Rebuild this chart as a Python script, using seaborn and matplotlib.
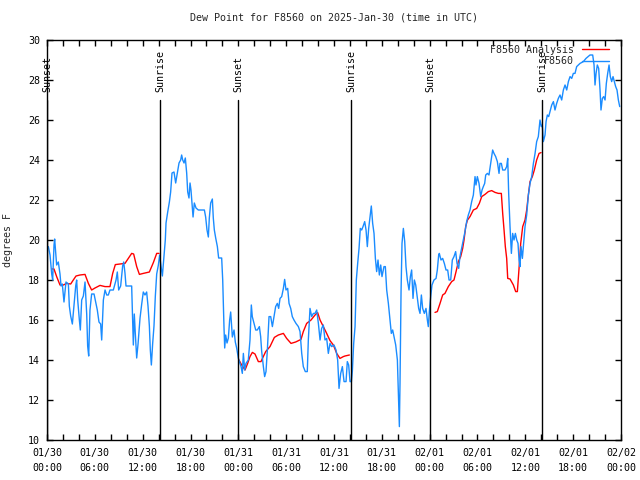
import numpy as np
import pandas as pd
import matplotlib
matplotlib.use("Agg")
import matplotlib.pyplot as plt
from matplotlib.lines import Line2D
from matplotlib.ticker import MultipleLocator
import seaborn as sns

# ---------------- data (hours since 2025-01-30 00:00 UTC) ----------------
obs_t_a = [0.17, 0.38, 0.59, 0.71, 0.88, 0.96, 1.13, 1.21, 1.42, 1.63,
           1.76, 1.92, 2.13, 2.38, 2.68, 2.80, 2.97, 3.18, 3.39, 3.60,
           3.72, 3.85, 4.06, 4.18, 4.35, 4.56, 4.77, 4.98, 5.10, 5.23,
           5.39, 5.60, 5.90, 6.10, 6.31, 6.52, 6.73, 6.86, 7.07, 7.28,
           7.49, 7.69, 7.90, 8.32, 8.66, 8.82, 8.99, 9.24, 9.49, 9.62,
           9.78, 9.91, 10.20, 10.62, 10.83, 10.95, 11.08, 11.25, 11.42, 11.67,
           11.88, 12.08, 12.29, 12.50, 12.67, 12.84, 12.96, 13.09, 13.25, 13.42,
           13.59, 13.76, 13.97, 14.13, 14.30, 14.47, 14.68, 14.84, 14.93, 15.14,
           15.35, 15.51, 15.68, 15.93, 16.14, 16.35, 16.56, 16.77, 16.89, 17.02,
           17.19, 17.35, 17.52, 17.65, 17.81, 17.94, 18.06, 18.19, 18.32, 18.48,
           18.69, 18.98, 19.40, 19.74, 19.90, 20.07, 20.24, 20.36, 20.53, 20.74,
           20.86, 20.99, 21.16, 21.37, 21.53, 21.91, 22.04, 22.20, 22.29, 22.41,
           22.58, 22.75, 22.91, 23.04, 23.25, 23.46, 23.62, 23.79, 24.00]
obs_v_a = [19.67, 19.25, 18.3, 18.0, 19.75, 20.05, 19.2, 18.75, 18.9, 18.3,
           17.7, 17.8, 16.9, 17.9, 17.8, 16.7, 16.2, 15.8, 16.75, 17.7,
           18.0, 17.0, 16.0, 15.5, 17.0, 17.2, 17.9, 16.3, 14.7, 14.2,
           16.5, 17.3, 17.3, 16.9, 16.5, 15.9, 15.8, 15.0, 17.0, 17.5,
           17.25, 17.25, 17.5, 17.5, 18.0, 18.4, 17.5, 17.7, 18.7, 18.9,
           18.35, 17.7, 17.7, 17.7, 14.75, 16.3, 15.3, 14.1, 14.8, 16.1,
           16.8, 17.4, 17.25, 17.4, 16.7, 15.7, 14.5, 13.75, 14.8, 15.7,
           17.2, 18.3, 18.75, 19.25, 18.7, 18.2, 19.25, 20.0, 20.85, 21.4,
           21.9, 22.4, 23.35, 23.4, 22.85, 23.35, 23.85, 24.0, 24.25, 24.0,
           23.85, 24.1, 23.35, 22.4, 22.1, 22.85, 22.5, 21.85, 21.15, 21.85,
           21.6, 21.5, 21.5, 21.5, 21.15, 20.5, 20.15, 21.1, 21.85, 22.05,
           21.1, 20.5, 20.1, 19.67, 19.1, 19.1, 18.0, 15.65, 14.6, 15.25,
           14.85, 15.1, 16.0, 16.4, 15.15, 15.5, 14.9, 14.6, 14.1]

obs_t_b = [24.13, 24.34, 24.50, 24.63, 24.80, 24.96, 25.25, 25.46, 25.63, 25.75,
           25.97, 26.18, 26.38, 26.64, 26.80, 26.93, 27.14, 27.30, 27.47, 27.64,
           27.85, 28.06, 28.27, 28.48, 28.68, 28.89, 29.06, 29.23, 29.44, 29.65,
           29.81, 29.98, 30.19, 30.36, 30.57, 30.77, 30.98, 31.23, 31.53, 31.74,
           31.95, 32.15, 32.40, 32.65, 32.78, 32.99, 33.20, 33.41, 33.62, 33.83,
           34.04, 34.25, 34.45, 34.66, 34.87, 35.08, 35.29, 35.50, 35.71, 36.00,
           36.25, 36.46, 36.63, 36.84, 37.05, 37.26, 37.51, 37.67, 37.84, 38.01,
           38.18, 38.30, 38.47, 38.64, 38.80, 38.97, 39.14, 39.30, 39.47, 39.64,
           39.85, 40.02, 40.18, 40.35, 40.52, 40.68, 40.85, 41.02, 41.19, 41.35,
           41.52, 41.69, 41.86, 42.02, 42.27, 42.44, 42.61, 42.82, 43.03, 43.19,
           43.36, 43.53, 43.74, 43.95, 44.11, 44.20, 44.28, 44.41, 44.53, 44.70,
           44.87, 45.03, 45.20, 45.41, 45.58, 45.74, 45.91, 46.08, 46.25, 46.46,
           46.62, 46.79, 46.96, 47.12, 47.33, 47.54, 47.71, 47.83, 47.96, 48.13,
           48.29, 48.54, 48.80, 48.96, 49.13]
obs_v_b = [13.92, 13.67, 13.33, 14.33, 13.5, 13.83, 14.0, 14.99, 16.75, 16.17,
           15.83, 15.5, 15.5, 15.67, 15.17, 14.42, 13.67, 13.17, 13.42, 14.5,
           16.17, 16.17, 15.67, 16.17, 16.67, 16.83, 16.58, 17.08, 17.17, 17.58,
           18.03, 17.5, 17.58, 16.83, 16.58, 16.17, 16.0, 15.83, 15.67, 15.42,
           14.33, 13.67, 13.42, 13.42, 15.0, 16.58, 16.17, 16.33, 16.33, 16.5,
           15.83, 15.0, 15.58, 15.75, 15.0, 15.08, 14.33, 14.83, 14.67, 14.75,
           14.5, 14.0, 12.58, 13.33, 13.67, 12.92, 12.92, 13.92, 13.75, 12.92,
           12.92, 13.42, 14.83, 15.67, 18.0, 18.83, 19.58, 20.58, 20.5, 20.67,
           20.92, 20.5, 19.67, 20.58, 21.17, 21.7, 20.83, 20.33, 19.08, 18.42,
           19.0, 18.25, 18.75, 18.17, 18.67, 18.67, 17.5, 16.83, 16.0, 15.33,
           15.5, 15.17, 14.75, 14.0, 11.83, 10.67, 12.83, 17.42, 19.83, 20.58,
           19.92, 18.67, 18.0, 17.5, 18.17, 18.5, 17.08, 18.0, 17.75, 17.08,
           16.58, 16.33, 17.25, 16.58, 16.33, 16.58, 16.0, 15.67, 16.42, 17.17,
           17.75, 18.0, 18.08, 18.5, 19.25]

obs_t_c = [49.21, 49.42, 49.63, 49.84, 50.05, 50.26, 50.43, 50.64, 50.84, 51.05,
           51.26, 51.43, 51.64, 51.80, 52.01, 52.22, 52.43, 52.64, 52.85, 53.06,
           53.27, 53.48, 53.69, 53.81, 53.98, 54.19, 54.40, 54.57, 54.73, 54.90,
           55.03, 55.24, 55.44, 55.65, 55.90, 56.07, 56.28, 56.49, 56.70, 56.82,
           56.99, 57.16, 57.45, 57.66, 57.79, 57.91, 58.08, 58.25, 58.41, 58.58,
           58.75, 58.92, 59.08, 59.21, 59.33, 59.46, 59.63, 59.75, 59.96, 60.17,
           60.38, 60.59, 60.80, 61.01, 61.22, 61.42, 61.63, 61.84, 62.01, 62.13,
           62.26, 62.47, 62.60, 62.76, 62.93, 63.10, 63.31, 63.52, 63.72, 63.93,
           64.14, 64.35, 64.56, 64.77, 64.98, 65.19, 65.40, 65.61, 65.82, 66.02,
           66.23, 66.44, 66.65, 66.86, 67.28, 67.61, 68.11, 68.45, 68.62, 68.74,
           68.87, 69.03, 69.20, 69.37, 69.49, 69.66, 69.83, 70.00, 70.16, 70.33,
           70.50, 70.66, 70.83, 71.00, 71.17, 71.33, 71.50, 71.67, 71.84]
obs_v_c = [19.33, 19.0, 19.08, 18.83, 18.5, 18.5, 18.0, 18.0, 19.0, 19.17,
           19.42, 18.83, 18.58, 19.17, 19.58, 20.0, 20.42, 20.92, 21.25, 21.5,
           21.92, 22.25, 23.17, 22.75, 23.17, 22.83, 22.17, 22.5, 22.67, 22.83,
           23.25, 23.33, 23.25, 23.83, 24.5, 24.33, 24.17, 23.92, 23.33, 23.83,
           23.83, 23.5, 23.5, 23.67, 24.08, 22.33, 20.67, 19.33, 20.33, 20.0,
           20.33, 20.0, 19.83, 19.0, 18.67, 19.67, 19.08, 19.67, 20.67, 21.25,
           22.25, 22.83, 23.17, 23.83, 24.33, 24.92, 25.17, 26.0, 25.67, 25.75,
           24.92, 25.25, 25.92, 26.25, 26.17, 26.42, 26.75, 26.92, 26.5, 26.83,
           27.08, 27.25, 27.0, 27.5, 27.75, 27.5, 27.92, 28.17, 28.08, 28.33,
           28.33, 28.67, 28.75, 28.83, 28.92, 29.08, 29.25, 29.25, 28.75, 27.75,
           28.33, 28.75, 28.58, 27.5, 26.5, 27.08, 27.17, 27.0, 27.83, 28.33,
           28.75, 28.17, 27.92, 28.17, 27.92, 27.67, 27.5, 27.0, 26.67]

ana_t_1 = [0.59, 0.88, 1.21, 1.63, 2.05, 2.47, 2.97, 3.30, 3.64, 4.14,
           4.77, 5.19, 5.60, 6.02, 6.65, 7.28, 7.90, 8.24, 8.57, 9.16,
           9.78, 10.20, 10.62, 10.87, 11.25, 11.59, 12.08, 12.84, 13.34, 13.76,
           14.05]
ana_v_1 = [18.55, 18.55, 18.17, 17.75, 17.75, 17.83, 17.8, 18.0, 18.2, 18.25,
           18.28, 17.83, 17.5, 17.6, 17.73, 17.67, 17.67, 18.33, 18.77, 18.8,
           18.83, 19.08, 19.33, 19.3, 18.67, 18.28, 18.33, 18.4, 18.87, 19.33,
           19.33]

ana_t_2 = [24.08, 24.42, 24.84, 25.17, 25.46, 25.76, 26.09, 26.51, 26.84, 27.05,
           27.43, 27.97, 28.52, 29.02, 29.65, 30.06, 30.61, 31.19, 31.86, 32.15,
           32.57, 33.12, 33.62, 33.95, 34.25, 34.66, 35.08, 35.50, 35.92, 36.34,
           36.75, 37.17, 37.38, 37.93]
ana_v_2 = [14.0, 13.75, 13.5, 13.83, 14.17, 14.38, 14.3, 13.92, 13.92, 14.1,
           14.42, 14.67, 15.13, 15.25, 15.33, 15.08, 14.83, 14.9, 15.03, 15.42,
           15.83, 16.0, 16.25, 16.37, 16.0, 15.67, 15.33, 14.97, 14.75, 14.33,
           14.08, 14.17, 14.2, 14.25]

ana_t_3 = [48.67, 48.96, 49.30, 49.63, 49.92, 50.34, 50.76, 51.05, 51.31, 51.60,
           51.89, 52.14, 52.31, 52.52, 52.73, 53.06, 53.48, 53.90, 54.23, 54.53,
           54.94, 55.36, 55.78, 56.20, 56.62, 56.99, 57.16, 57.33, 57.49, 57.66,
           57.79, 58.08, 58.50, 58.79, 59.00, 59.21, 59.42, 59.67, 59.96, 60.17,
           60.38, 60.59, 60.88, 61.13, 61.42, 61.72, 61.97]
ana_v_3 = [16.38, 16.42, 16.83, 17.25, 17.33, 17.67, 17.92, 18.0, 18.42, 18.92,
           19.17, 19.58, 20.0, 20.67, 20.99, 21.17, 21.5, 21.58, 21.83, 22.17,
           22.28, 22.42, 22.47, 22.38, 22.33, 22.33, 21.33, 20.5, 19.67, 19.08,
           18.08, 18.05, 17.75, 17.42, 17.42, 18.58, 19.83, 20.67, 21.0, 21.5,
           22.25, 22.92, 23.17, 23.5, 24.0, 24.33, 24.37]

sun_times = [0.0, 14.17, 23.96, 38.13, 48.04, 62.09]
sun_labels = ["Sunset", "Sunrise", "Sunset", "Sunrise", "Sunset", "Sunrise"]

x_tick_pos = [0, 6, 12, 18, 24, 30, 36, 42, 48, 54, 60, 66, 72]
x_tick_labels = ["01/30\n00:00", "01/30\n06:00", "01/30\n12:00", "01/30\n18:00",
                 "01/31\n00:00", "01/31\n06:00", "01/31\n12:00", "01/31\n18:00",
                 "02/01\n00:00", "02/01\n06:00", "02/01\n12:00", "02/01\n18:00",
                 "02/02\n00:00"]

title = "Dew Point for F8560 on 2025-Jan-30 (time in UTC)"
station = "F8560"

# ---------------- frames ----------------
obs = pd.DataFrame({"t": obs_t_a + obs_t_b + obs_t_c,
                    "v": obs_v_a + obs_v_b + obs_v_c})
ana = pd.DataFrame({"t": ana_t_1 + ana_t_2 + ana_t_3,
                    "v": ana_v_1 + ana_v_2 + ana_v_3,
                    "seg": [1] * len(ana_t_1) + [2] * len(ana_t_2) + [3] * len(ana_t_3)})

# ---------------- style ----------------
sns.set_style("white")
plt.rcParams["font.family"] = ["DejaVu Sans Mono", "DejaVu Sans"]
FS = 7.2

BLUE = "#1a8cff"
RED = "#ff0000"

fig = plt.figure(figsize=(6.4, 4.8), dpi=100)
ax = fig.add_axes([47 / 640, 40 / 480, 574 / 640, 400 / 480])

sns.lineplot(data=ana, x="t", y="v", units="seg", estimator=None,
             color=RED, linewidth=1.0, ax=ax, legend=False, sort=True)
sns.lineplot(data=obs, x="t", y="v", estimator=None,
             color=BLUE, linewidth=1.0, ax=ax, legend=False, sort=True)

# sunrise / sunset markers
for tt, lab in zip(sun_times, sun_labels):
    ax.plot([tt, tt], [10, 27.0], color="black", linewidth=1.0, zorder=3)
    ax.text(tt, 27.4, lab, rotation=90, ha="center", va="bottom",
            fontsize=FS, color="black", zorder=4)

ax.set_xlim(0, 72)
ax.set_ylim(10, 30)
ax.set_xticks(x_tick_pos, x_tick_labels, linespacing=1.55)
ax.xaxis.set_minor_locator(MultipleLocator(2))
ax.yaxis.set_major_locator(MultipleLocator(2))
ax.tick_params(axis="both", which="both", direction="in", length=4, width=1,
               top=True, right=True, bottom=True, left=True,
               labelsize=FS, colors="black")
ax.tick_params(axis="x", which="major", pad=6)
ax.tick_params(axis="y", which="major", pad=5)

for sp in ax.spines.values():
    sp.set_color("black")
    sp.set_linewidth(1.0)
    sp.set_visible(True)

ax.set_xlabel("")
ax.set_ylabel("degrees F", fontsize=FS, labelpad=11)
ax.set_title(title, fontsize=FS, pad=14)

handles = [Line2D([], [], color=RED, linewidth=1.0),
           Line2D([], [], color=BLUE, linewidth=1.0)]
ax.legend(handles, [station + " Analysis", station], loc="upper right",
          bbox_to_anchor=(1 - 7 / 574, 1.0),
          frameon=False, markerfirst=False, fontsize=FS, handlelength=2.7,
          handletextpad=0.8, labelspacing=0.15, borderaxespad=0.3,
          borderpad=0.2)

fig.savefig("out.png", dpi=100)
